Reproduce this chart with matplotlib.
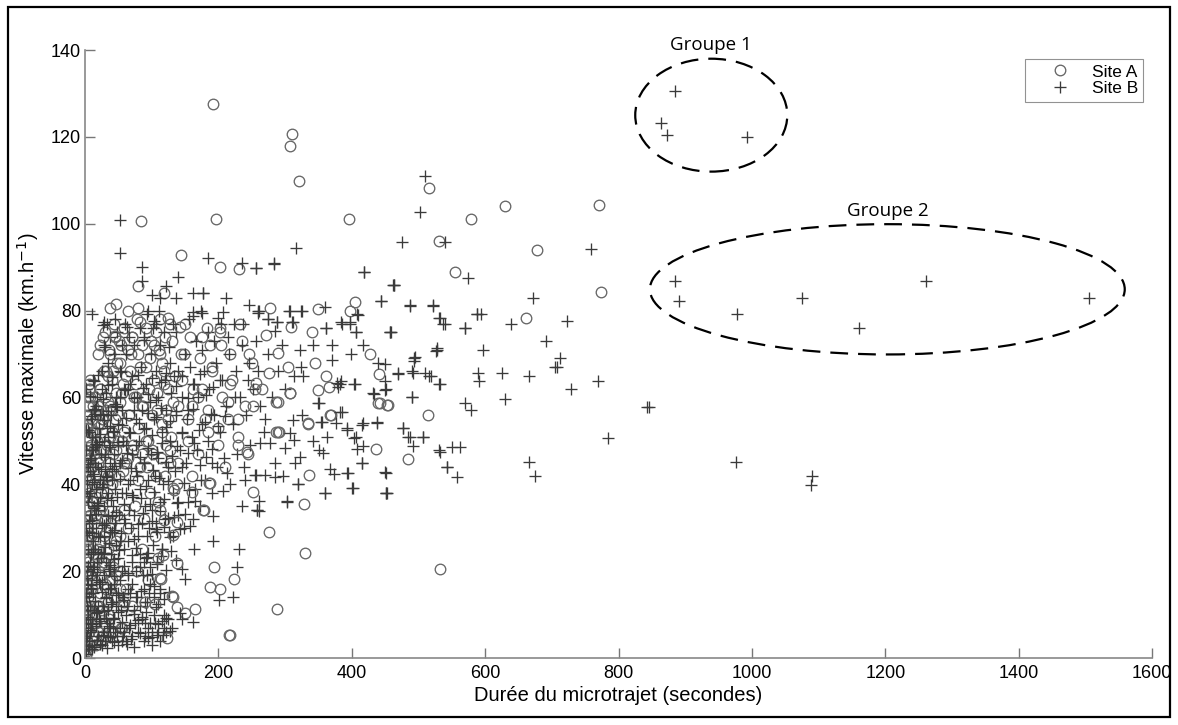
import matplotlib
matplotlib.use("Agg")
import matplotlib.pyplot as plt
from matplotlib.patches import Ellipse, Rectangle

plt.rcParams['font.family'] = ['Liberation Sans', 'DejaVu Sans']

# ---------------- Data ----------------
# Site A (circles): sparse / isolated points
site_a_x = [192, 310, 307, 321, 196, 84, 396, 144, 202, 231, 80, 118, 405, 278, 350, 398,
            37, 47, 64, 79, 309, 341, 272, 45, 125, 142, 82, 183, 202, 427,
            516, 629, 579, 770, 530, 677, 554, 773, 661, 453, 514, 484, 532, 442,
            436, 336, 252, 328, 276, 330, 288, 216, 194, 224, 188, 203, 138, 114, 165, 150,
            123, 130, 441, 454, 366, 350, 307, 286, 291, 289, 367, 335, 243, 230, 179, 160,
            186, 132, 119, 132, 290, 304, 345, 362, 307, 256, 290, 440, 369, 334, 286, 276, 252,
            112, 132, 138, 105, 90, 217, 177, 134, 187, 117, 138, 112, 109]
site_a_y = [127.5, 120.6, 117.9, 109.8, 101, 100.6, 101.2, 92.7, 90, 89.6, 85.6, 84, 82, 80.6, 80.3, 79.9,
            80.6, 81.6, 80, 80.5, 76.2, 75.1, 74.3, 74.1, 78.3, 76.2, 77.3, 76, 75, 70,
            108.2, 104, 101.2, 104.2, 96, 93.9, 88.8, 84.2, 78.2, 58.3, 56, 45.9, 20.5, 58.8,
            48.2, 42.2, 38.3, 35.5, 29, 24.2, 11.3, 5.3, 21, 18.2, 16.4, 16, 21.9, 18.2, 11.3, 10.4,
            4.6, 14.3, 65.3, 58.3, 62.3, 61.8, 61, 59, 52, 52, 56, 54.2, 47.5, 49.1, 34.1, 38.3,
            40.4, 39.2, 31.8, 28.3, 70.3, 67.1, 68, 65, 61, 63.4, 59, 58.8, 56, 54, 52, 65.7, 58,
            18.4, 14, 11.8, 12.5, 13, 5.3, 34.1, 38.7, 40.4, 23.8, 31.4, 34, 23]

# Site A (circles): dense cloud near the origin
site_a_dense_x = [1, 2, 3, 1, 4, 2, 5, 3, 1, 4, 6, 2, 5, 7, 3, 6, 8, 4, 7, 9, 5, 8, 11, 6, 12, 10,
                  13, 11, 14, 10, 13, 9, 12, 8, 11, 7, 10, 6, 9, 14, 15, 16, 18, 20, 15, 8, 3, 0.5,
                  2, 1, 3, 5,
                  17, 20, 24, 28, 32, 36, 40, 45, 50, 55, 18, 22, 26, 30, 34, 38, 43, 47, 52, 57,
                  19, 23, 27, 31, 35, 39, 44, 48, 53, 58, 16, 21, 25, 29, 33, 37, 41, 46, 51, 56,
                  18, 22, 26, 30, 34, 38, 42, 47, 52, 57, 20, 27, 36, 45, 54, 31, 24, 40, 49, 59,
                  62, 70, 78, 85, 95, 105, 65, 75, 88, 98, 110, 120, 62, 72, 82, 92, 102, 115, 128,
                  140, 155, 170, 185, 200, 215, 230, 66, 76, 86, 96, 108, 118, 132, 145, 160, 175,
                  190, 205, 220, 240, 68, 80, 92, 104, 116, 130, 144, 158, 172, 188, 202, 218, 235,
                  250, 265, 70, 112, 150, 180, 210, 245, 125, 138, 160,
                  0.5, 1.5, 2.5, 0.8, 1.8, 3.2, 0.6, 2.2, 1.2, 3.6, 0.9, 2.7, 1.4, 0.7, 2.4, 3.9,
                  1.1, 2.9, 0.4, 1.7, 3.3, 2.1, 4.5, 5.5, 6.5, 7.5,
                  22, 28, 35, 41, 48, 55, 62, 69, 76, 83, 90, 97, 104, 111, 118, 125,
                  24, 31, 38, 45, 52, 59, 66, 73, 80, 87, 94, 101, 108, 115, 122, 129,
                  20, 27, 34, 42, 49, 57, 64, 72, 79, 86, 93, 100, 107, 114, 121, 128,
                  23, 30, 37, 44, 51, 58, 65, 71, 78, 85, 92, 99, 106, 113, 120, 127,
                  16, 21, 26, 31, 36, 42, 48, 54, 19, 24, 29, 34, 40, 46, 52, 58,
                  135, 148, 162, 176, 190, 204, 218, 232, 246, 140, 155, 170, 185, 200, 215, 230, 255,
                  6, 9, 12, 15, 18, 21, 24, 27, 30, 33, 36, 39,
                  8, 11, 14, 17, 20, 23, 26, 29, 32, 35, 38]
site_a_dense_y = [0.5, 2, 4, 7, 9, 12, 14, 17, 20, 22, 25, 27, 30, 33, 35, 38, 41, 43, 46, 49, 51, 53,
                  55, 56, 58, 52, 47, 44, 40, 36, 31, 28, 24, 19, 16, 12, 10, 6, 3, 5, 20, 33, 50, 54,
                  60, 62, 1.5, 3, 16, 25, 45, 58,
                  3, 6, 4, 8, 5, 9, 6, 8, 5, 7, 12, 15, 11, 17, 13, 18, 14, 19, 16, 12,
                  23, 27, 22, 29, 25, 31, 26, 33, 28, 34, 37, 40, 35, 43, 38, 45, 40, 48, 42, 50,
                  57, 62, 55, 60, 65, 58, 66, 61, 68, 63, 70, 74, 71, 74, 72, 66, 48, 52, 56, 45,
                  16, 12, 20, 25, 18, 28, 30, 35, 32, 38, 36, 42, 45, 48, 44, 50, 47, 52, 48,
                  45, 50, 47, 52, 49, 55, 51, 56, 60, 58, 62, 57, 63, 59, 64, 58, 62,
                  66, 60, 64, 58, 66, 70, 67, 72, 68, 73, 70, 74, 69, 72, 76, 70, 73,
                  68, 62, 74, 78, 77, 55, 44, 47, 55, 40, 42,
                  5, 10, 15, 19, 23, 28, 32, 37, 42, 47, 50, 53, 56, 39, 26, 11,
                  34, 44, 8, 48, 54, 21, 60, 62, 63, 64,
                  62, 66, 59, 64, 68, 61, 65, 70, 63, 67, 60, 69, 64, 71, 66, 62,
                  54, 57, 51, 55, 59, 52, 56, 60, 53, 58, 50, 56, 61, 54, 57, 51,
                  45, 48, 42, 47, 50, 43, 46, 49, 41, 47, 44, 48, 42, 46, 49, 45,
                  72, 75, 70, 77, 73, 76, 71, 74, 78, 72, 76, 73, 75, 70, 74, 77,
                  8, 12, 5, 16, 10, 21, 14, 7, 25, 19, 28, 23, 18, 27, 20, 13,
                  65, 70, 62, 74, 67, 72, 63, 77, 70, 58, 55, 60, 57, 53, 59, 55, 62,
                  28, 44, 36, 52, 30, 46, 38, 55, 32, 49, 41, 57,
                  60, 18, 48, 24, 58, 34, 40, 22, 56, 20, 30]

# Site B (pluses): sparse / isolated points
site_b_x = [885, 864, 873, 993,                                    # Groupe 1
            885, 891, 978, 1075, 1261, 1161, 1506,                 # Groupe 2
            1090, 1089, 976, 845, 784, 769, 728, 707, 666, 675, 630, 665, 625, 591, 589,
            570, 579, 531, 515, 490, 469, 490, 477, 488, 507, 492, 531, 550, 562, 543, 557,
            452, 452, 493, 691, 712, 705, 596, 526, 843,
            540, 574, 759, 672, 522, 531, 540, 588, 593, 569, 638, 723,
            509, 503, 475, 462, 488, 532, 570, 587, 459, 527, 495,
            283, 256, 419, 463, 444, 487, 522, 537, 458, 410, 385, 397, 406, 361, 326, 306,
            259, 274, 288, 312, 285, 370, 417, 399, 528, 494, 439, 450, 469, 492, 510, 518,
            450, 532, 490, 404, 384, 380, 434, 450, 351, 385, 322, 342, 370, 324, 314, 327,
            378, 326, 354, 376, 417, 438, 393, 406, 477, 485, 507, 417, 408, 363, 342, 351,
            307, 300, 314, 277, 262,
            315, 322, 357, 367, 374, 393, 415, 450, 360, 401, 451, 319, 303, 261, 261, 256,
            270, 285, 297, 543, 532,
            453, 402, 360, 303, 235, 258, 192, 231, 164, 228, 150, 201, 222, 119, 162, 145,
            319, 395, 415, 393, 404, 415, 438, 382, 350, 355, 312, 405, 382, 432, 452,
            53, 53, 85, 185, 235, 256, 284, 317, 419, 463, 444, 139, 121, 85, 100, 112, 136,
            162, 177, 211, 246, 261, 307, 324, 360, 408, 10, 28, 60, 93, 106, 132, 162, 175,
            200, 237, 260, 275, 288, 310, 361, 384, 397, 406, 457,
            142, 192, 207, 162, 138, 124, 108, 115, 93, 93, 112, 106, 90, 117, 100, 240, 213,
            255, 258, 27, 63, 82, 103, 111, 30, 66, 88, 126, 162, 177, 207]
site_b_y = [130.5, 123.2, 120.4, 119.9,
            86.9, 82.1, 79.1, 83, 86.7, 75.9, 83,
            42, 39.9, 45.2, 57.9, 50.7, 63.9, 62, 67.1, 45.2, 42, 59.7, 65, 65.7, 63.9, 65.7,
            58.8, 57, 63, 65, 66, 65.3, 60, 53, 51, 51, 48.9, 48, 48.7, 48.7, 44, 41.7,
            42.7, 38, 68.5, 73.1, 69, 66.9, 71, 70.8, 57.9,
            95.7, 87.6, 94.1, 83, 81.2, 78.2, 77, 79.1, 79.1, 75.9, 77, 77.7,
            110.9, 102.6, 95.9, 85.8, 81.2, 78.2, 75.9, 79.1, 75, 71.3, 69.2,
            90.9, 89.7, 88.8, 85.8, 82.1, 81, 81, 77, 75, 78.9, 76.8, 77, 75, 75.9, 79.8, 80,
            80, 78, 77.3, 77.3, 75.2, 72, 72, 69.9, 71, 69, 68, 67.6, 65.7, 65.7, 65.7, 65,
            63.7, 63, 60, 63, 63.7, 62.5, 60.9, 61.8, 58.8, 56.7, 71, 72, 68.7, 67.1, 65, 65,
            63.4, 56, 54.4, 54.2, 54.2, 54.4, 52.6, 51, 53, 51, 51, 48.9, 48.2, 51, 50, 48,
            51.9, 48.4, 50.3, 49.6, 49.6,
            45, 46.3, 47.3, 43.6, 42.4, 42.7, 45, 42.9, 38, 39.2, 38, 40.1, 36.2, 36.2, 33.9, 42.2,
            42.2, 41.7, 42, 44, 47.5,
            38, 39.2, 38, 36, 35, 34, 27, 25, 25, 21, 18.2, 13.4, 14, 9.9, 8.3, 9,
            40, 42.7, 45, 53, 50.7, 53.7, 54.2, 56.7, 58.8, 54.4, 54.9, 63, 63, 61, 62,
            100.8, 93.2, 90, 92, 91, 89.7, 90.8, 94.5, 88.8, 85.8, 82.1, 87.8, 85.6, 86.8, 83.7,
            82.9, 83, 84, 84, 83, 81.4, 79.8, 80, 80, 80.9, 79.1, 79.1, 77.3, 76.8, 79.1, 76.8,
            76.8, 78.7, 79.5, 78.3, 76.8, 79.5, 78, 77.3, 77.3, 76, 77.3, 77.3, 75, 75,
            10.4, 32.7, 38.5, 32, 35.7, 32.3, 29, 25, 23.3, 19, 15, 11.8, 8, 5.3, 4.8, 41, 42.7,
            42.2, 34.1, 76.6, 76.3, 76, 77.5, 80, 71.7, 74, 73.3, 71.7, 79.6, 84, 79.6]

# Site B (pluses): dense cloud near the origin
site_b_dense_x = [1, 2, 3, 4, 5, 6, 7, 8, 2, 3, 5, 6, 8, 9, 4, 10, 12, 11, 13, 14, 7, 3, 5, 9, 12,
                  15, 16, 18, 17, 6, 8, 11, 14, 19, 20, 4, 7, 10, 13, 16, 19, 22, 5, 9, 12, 15, 18,
                  21, 24, 6, 10, 14, 17, 23, 3, 2, 1, 20, 22, 24, 25, 23, 16, 19, 13, 10, 21, 8, 11,
                  15, 18, 25, 2, 1, 12,
                  26, 28, 30, 33, 35, 38, 40, 42, 45, 48, 52, 55, 58, 27, 31, 34, 37, 41, 44, 47,
                  50, 54, 57, 29, 32, 36, 39, 43, 46, 49, 53, 56, 59, 28, 31, 35, 38, 42, 45, 48,
                  51, 55, 58, 27, 30, 34, 37, 40, 44, 47, 50, 53, 57, 29, 33, 36, 39, 43, 46, 49,
                  52, 56, 59, 32, 41, 26, 35, 44, 53, 28, 38, 48, 56, 33, 45,
                  62, 66, 70, 75, 80, 85, 90, 95, 100, 105, 110, 118, 125, 130, 63, 68, 73, 78, 83,
                  88, 93, 98, 104, 112, 65, 70, 76, 82, 87, 92, 97, 102, 108, 115, 64, 69, 74, 79,
                  85, 90, 96, 101, 107, 113, 120, 126, 62, 67, 72, 77, 83, 88, 94, 99, 105, 110,
                  117, 124, 61, 66, 71, 76, 81, 86, 92, 97, 103, 109, 115, 121, 128, 64, 70, 78,
                  84, 91, 99, 106, 113, 120, 127, 74, 88, 102, 118, 62, 95,
                  132, 140, 148, 155, 165, 172, 180, 190, 198, 208, 218, 228, 238, 248, 135, 143,
                  152, 160, 168, 176, 185, 194, 202, 212, 222, 232, 242, 252, 137, 146, 154, 162,
                  170, 178, 186, 196, 206, 216, 226, 236, 246, 256, 140, 150, 158, 166, 176, 184,
                  194, 204, 214, 224, 136, 156, 174, 133, 145, 190, 225, 245, 262, 270, 280, 290,
                  300, 275, 295, 285, 268, 260,
                  14, 18, 22, 27, 33, 37, 44, 50, 57, 63, 69, 74, 82, 88, 94, 101, 108, 113, 121, 127,
                  4, 11, 17, 23, 29, 36, 43, 49, 56, 61, 67, 73, 79, 86, 91, 97, 103, 109, 116, 122,
                  2, 9, 15, 21, 26, 32, 39, 46, 53, 59, 65, 71, 77, 84, 90, 96, 103, 110, 118, 126,
                  5, 12, 18, 24, 30, 37, 44, 51, 58, 64, 70, 77, 83, 89, 95, 101, 108, 114, 121, 129,
                  137, 145,
                  3, 10, 16, 22, 28, 35, 41, 47, 54, 60, 66, 73, 80, 87, 93, 100, 106, 112, 119, 127,
                  134, 142, 150, 158,
                  6, 13, 19, 26, 33, 39, 45, 52, 58, 64, 71, 78, 84, 91, 97, 104, 111, 118, 125, 132,
                  140, 148, 156, 165, 174,
                  4, 11, 17, 24, 30, 37, 43, 50, 56, 63, 69, 76, 82, 89, 95, 102, 108, 115, 122, 130,
                  138, 146, 154, 163, 172, 181, 190,
                  2, 9, 15, 22, 28, 35, 42, 48, 55, 61, 68, 74, 81, 88, 94, 101, 107, 114, 121, 128,
                  136, 145, 153, 162, 171, 180, 189, 199, 210,
                  7, 14, 20, 27, 34, 40, 47, 54, 60, 67, 74, 80, 87, 94, 100, 107, 114, 121, 129, 137,
                  145, 154, 163, 172, 182, 192, 203,
                  1.5, 3.5, 5.5, 7.5, 9.5, 11.5, 13.5, 15.5, 17.5, 19.5,
                  2.5, 4.5, 6.5, 8.5, 10.5, 12.5, 14.5, 16.5, 18.5, 20.5,
                  26, 31, 36, 41, 29, 34, 39, 44, 27, 32, 37, 42, 30, 35, 40, 45, 28, 33, 38, 43]
site_b_dense_y = [1, 3, 5, 2, 7, 4, 9, 6, 8, 12, 11, 14, 12, 16, 17, 19, 15, 8, 11, 21, 22, 20, 25,
                  24, 27, 25, 18, 22, 30, 29, 33, 31, 35, 34, 28, 36, 38, 40, 42, 39, 44, 41, 44,
                  46, 48, 51, 49, 53, 47, 52, 55, 57, 58, 56, 41, 30, 15, 12, 17, 24, 31, 37, 8, 5,
                  3, 2, 9, 43, 51, 45, 60, 62, 48, 62, 64,
                  3, 6, 4, 8, 5, 7, 4, 9, 6, 5, 7, 4, 6, 12, 14, 11, 16, 13, 17, 12, 15, 11, 14,
                  19, 22, 20, 24, 21, 26, 23, 27, 20, 25, 28, 31, 33, 29, 35, 31, 37, 33, 38, 32,
                  40, 43, 38, 45, 41, 47, 43, 49, 45, 50, 50, 53, 49, 56, 52, 58, 54, 60, 57, 62,
                  61, 63, 66, 68, 70, 66, 72, 74, 75, 72, 77, 78,
                  4, 7, 5, 8, 6, 9, 5, 7, 6, 8, 6, 7, 9, 7, 12, 15, 11, 14, 12, 16, 13, 17, 14, 16,
                  19, 22, 20, 24, 19, 23, 21, 26, 22, 25, 27, 30, 33, 28, 31, 35, 30, 34, 31, 36,
                  32, 29, 38, 41, 37, 43, 39, 45, 41, 47, 42, 46, 40, 44, 49, 52, 47, 55, 50, 57,
                  53, 59, 55, 60, 52, 57, 50, 62, 65, 60, 67, 63, 70, 66, 72, 64, 68, 72, 74, 76,
                  75, 70, 80,
                  28, 33, 30, 36, 39, 35, 41, 38, 44, 46, 40, 47, 44, 49, 43, 48, 45, 51, 48, 54,
                  50, 56, 52, 58, 54, 60, 56, 62, 56, 60, 57, 63, 60, 66, 62, 68, 64, 70, 66, 72,
                  68, 73, 66, 70, 67, 73, 71, 75, 73, 77, 74, 77, 75, 78, 80, 65, 52, 45, 60, 64,
                  58, 55, 60, 66, 62, 70, 72, 45, 52, 66,
                  2.5, 4.1, 3.2, 5.4, 2.2, 4.8, 3.6, 2.9, 5.1, 3.3, 4.4, 2.6, 5.7, 3.9, 4.6, 3.1, 5.3, 4.0, 5.9, 6.2,
                  9.5, 7.8, 10.3, 8.6, 10.9, 7.4, 9.1, 10.6, 8.2, 9.8, 7.5, 10.1, 8.8, 9.4, 10.7, 8.1, 9.9, 7.9, 8.5, 9.2,
                  14.2, 16.8, 13.1, 17.5, 15.3, 13.9, 16.2, 14.6, 17.9, 13.4, 15.8, 17.1, 14.1, 15.5, 12.8, 14.9, 16.6, 12.5, 13.6, 15.2,
                  21.3, 24.5, 19.8, 23.1, 25.6, 20.4, 22.7, 24.9, 21.2, 19.5, 23.8, 25.3, 20.9, 22.1, 24.2, 19.3, 21.7, 23.4, 20.2, 24.6,
                  22.6, 20.5,
                  28.4, 31.7, 33.2, 27.9, 30.6, 32.8, 29.1, 33.6, 28.7, 31.2, 34.1, 27.4, 30.9, 33.3, 28.2, 31.5, 29.6, 33.9, 30.2, 27.8,
                  32.4, 29.8, 33.1, 30.5,
                  37.2, 40.5, 35.8, 39.4, 41.7, 36.3, 38.9, 41.2, 35.5, 40.1, 37.6, 41.9, 36.8, 39.7, 35.4, 38.2, 41.4, 36.6, 40.8, 37.9,
                  35.9, 40.3, 38.6, 36.1, 41.1,
                  44.6, 47.8, 49.3, 43.5, 46.9, 48.7, 44.2, 49.8, 45.6, 47.3, 43.8, 49.1, 46.2, 44.9, 48.4, 43.3, 47.5, 49.6, 45.1, 46.6,
                  48.8, 43.9, 47.1, 49.4, 44.4, 46.4, 48.1,
                  52.4, 55.7, 57.3, 51.6, 54.9, 56.8, 52.2, 57.9, 53.7, 55.2, 51.9, 57.1, 54.1, 52.8, 56.4, 51.3, 55.6, 57.6, 53.1, 54.6,
                  56.9, 51.8, 55.1, 57.4, 52.6, 54.4, 56.1, 53.4, 55.8,
                  60.4, 63.7, 65.2, 59.6, 62.9, 64.8, 60.2, 65.9, 61.7, 63.2, 59.9, 65.1, 62.1, 60.8, 64.4, 59.3, 63.6, 65.6, 61.1, 62.6,
                  64.9, 59.8, 63.1, 65.4, 60.6, 62.4, 64.1,
                  4.5, 18.5, 31.5, 45.5, 6.5, 20.5, 34.5, 48.5, 10.5, 24.5,
                  38.5, 52.5, 2.8, 16.2, 28.7, 42.3, 56.1, 7.3, 35.2, 49.7,
                  17.6, 9.2, 26.4, 43.6, 35.1, 50.8, 12.4, 29.5, 56.3, 41.9, 21.5, 6.8, 46.2, 15.9,
                  32.7, 58.4, 24.1, 36.9, 53.5, 18.8]

# Annotated groups: (centre x, centre y, width, height)
groups = ["Groupe 1", "Groupe 2"]
group_cx = [939, 1203]
group_cy = [125, 84.9]
group_w = [228, 712]
group_h = [26, 30]

x_ticks = [0, 200, 400, 600, 800, 1000, 1200, 1400, 1600]
y_ticks = [0, 20, 40, 60, 80, 100, 120, 140]

# ---------------- Figure ----------------
fig = plt.figure(figsize=(11.78, 7.25), dpi=100)
ax = fig.add_axes([0.0722, 0.0924, 0.9058, 0.8386])

circ_col = '#666666'
plus_col = '#3a3a3a'

ax.plot(site_a_dense_x, site_a_dense_y, linestyle='none', marker='o', ms=7.6,
        mfc='none', mec=circ_col, mew=0.95)
ax.plot(site_b_dense_x, site_b_dense_y, linestyle='none', marker='+', ms=8.2,
        mec=plus_col, mew=0.95)
ax.plot(site_a_x, site_a_y, linestyle='none', marker='o', ms=7.6,
        mfc='none', mec=circ_col, mew=0.95, label='Site A')
ax.plot(site_b_x, site_b_y, linestyle='none', marker='+', ms=8.2,
        mec=plus_col, mew=0.95, label='Site B')

for name, cx, cy, w, h in zip(groups, group_cx, group_cy, group_w, group_h):
    ax.add_patch(Ellipse((cx, cy), w, h, fill=False, edgecolor='black', lw=1.6,
                         linestyle=(0, (8, 4.5))))
    ax.text(cx, cy + h / 2 + 1.0, name,
            ha='center', va='bottom', fontsize=13.5, family=['Open Sans', 'DejaVu Sans'])

ax.set_xlim(0, 1600)
ax.set_ylim(0, 140)
ax.set_xticks(x_ticks)
ax.set_yticks(y_ticks)
ax.tick_params(direction='in', length=7, width=1, color='#777777', labelsize=13,
               labelcolor='black')
ax.tick_params(axis='y', pad=3)
ax.tick_params(axis='x', pad=5)
for s in ['top', 'right']:
    ax.spines[s].set_visible(False)
for s in ['left', 'bottom']:
    ax.spines[s].set_color('#888888')
    ax.spines[s].set_linewidth(1.2)

ax.set_xlabel('Durée du microtrajet (secondes)', fontsize=14.5, labelpad=3)
ax.set_ylabel('Vitesse maximale (km.h$^{-1}$)', fontsize=14.5, labelpad=7)

leg = ax.legend(loc='upper right', bbox_to_anchor=(0.9916, 0.985), fontsize=12.5,
                frameon=True, fancybox=False, borderpad=0.3, handletextpad=0.15,
                labelspacing=0.1, handlelength=3.4, borderaxespad=0)
leg.get_frame().set_edgecolor('#777777')
leg.get_frame().set_linewidth(0.8)

fig.add_artist(Rectangle((0.0068, 0.011), 0.9864, 0.979, transform=fig.transFigure,
                         fill=False, edgecolor='black', lw=1.6))

fig.savefig('out.png', dpi=100)
